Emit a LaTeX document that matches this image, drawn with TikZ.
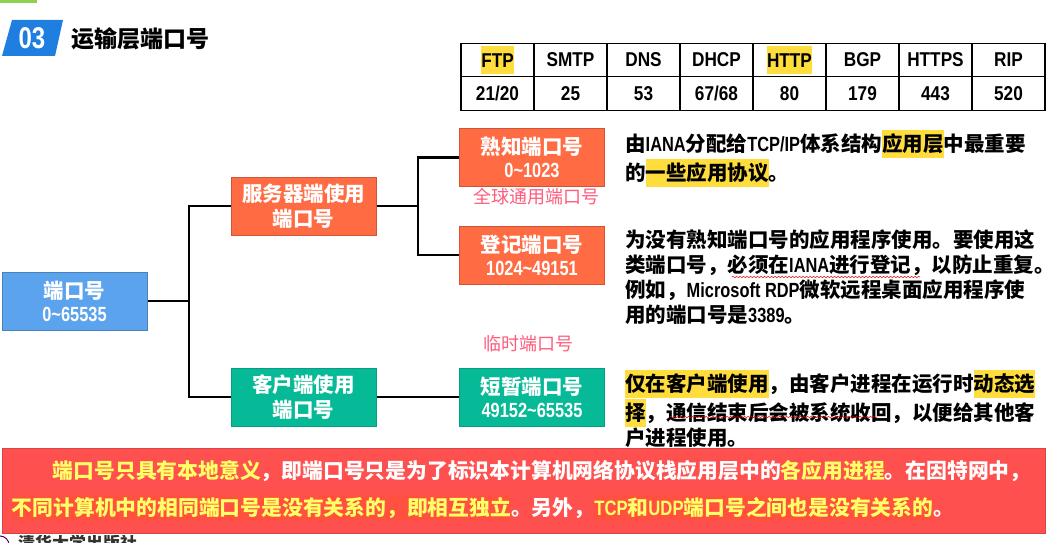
\documentclass[tikz,border=0pt]{standalone}
\usepackage{fontspec}
\setmainfont{Noto Sans CJK SC}
\newfontfamily\latn[FakeStretch=0.86]{Liberation Sans}
\newfontfamily\latnslim[FakeStretch=0.8]{Liberation Sans}
\usetikzlibrary{positioning,calc,decorations.pathmorphing}
\definecolor{portblue}{HTML}{5BA3EC}
\definecolor{portorange}{HTML}{FF6B42}
\definecolor{portgreen}{HTML}{07BA97}
\definecolor{notered}{HTML}{FF5050}
\definecolor{noteorange}{HTML}{FF5040}
\definecolor{notegold}{HTML}{FFFF66}
\definecolor{markyellow}{HTML}{FFDD3C}
\definecolor{sidepink}{HTML}{FF5A7A}
\definecolor{titleblue}{HTML}{1E7FE0}
\definecolor{topgreen}{HTML}{92D050}
\newcommand{\la}[1]{{\latnslim #1}}
\newcommand{\hl}[1]{{\setlength\fboxsep{0pt}\colorbox{markyellow}{\rule[-6pt]{0pt}{28pt}#1}}}
\newcommand{\hr}[1]{{\setlength\fboxsep{0pt}\colorbox{noteorange}{\rule[-5pt]{0pt}{26pt}\textcolor{notegold}{#1}}}}
\newcommand{\boxnum}[1]{\fontsize{20.5}{20}\selectfont\la{#1}}
\tikzset{
  portbox/.style={draw=portblue!80!black, fill=portblue, line width=1pt, minimum width=145pt,
                  minimum height=58pt, inner sep=0pt, align=center, text=white,
                  font=\fontsize{20.5}{25}\selectfont\bfseries},
  serverbox/.style={portbox, draw=portorange!80!black, fill=portorange},
  clientbox/.style={portbox, draw=portgreen!85!black, fill=portgreen},
  cell/.style={draw=black, line width=1.1pt, minimum width=73pt, minimum height=33.5pt,
               inner sep=0pt, font=\fontsize{20}{22}\selectfont\latn\bfseries},
  bodytext/.style={anchor=west, inner sep=0pt, align=left, text=black,
                   font=\fontsize{20.5}{25}\selectfont\bfseries},
  sidelabel/.style={inner sep=0pt, text=sidepink, font=\fontsize{18}{20}\selectfont},
  link/.style={draw=black, line width=2.4pt},
  squiggle/.style={draw=red!85!black, line width=.5pt, decorate,
                   decoration={snake, amplitude=.7pt, segment length=3.5pt}}}
\begin{document}
\begin{tikzpicture}[x=1pt, y=-1pt]
  \useasboundingbox (0,0) rectangle (1055,543);
  \fill[topgreen] (0,0) rectangle (37,3);
  % heading
  \fill[titleblue] (12,20) -- (63,20) -- (55,56) -- (2,56) -- cycle;
  \node[inner sep=0pt, text=white, font=\fontsize{30}{30}\selectfont\latnslim\bfseries] (num) at (32,38) {03};
  \node[anchor=west, inner sep=0pt, font=\fontsize{23}{25}\selectfont\bfseries] (title) at (71,39) {运输层端口号};
  % protocol table
  \foreach \proto/\pnum [count=\i] in {\hl{FTP}/21\slash 20, SMTP/25, DNS/53, DHCP/67\slash 68,
      \hl{HTTP}/80, BGP/179, HTTPS/443, RIP/520} {
    \node[cell] (p\i) at (461+73*\i-36.5,60) {\proto};
    \node[cell] (n\i) at (461+73*\i-36.5,93.5) {\pnum};
  }
  % tree
  \node[portbox] (port) at (74.5,301) {端口号\\[-2pt]\boxnum{0\textasciitilde 65535}};
  \node[serverbox] (server) at (303.5,206) {服务器端使用\\端口号};
  \node[clientbox] (client) at (303.5,397) {客户端使用\\端口号};
  \node[serverbox] (known) at (532,157.5) {熟知端口号\\[-2pt]\boxnum{0\textasciitilde 1023}};
  \node[serverbox] (reg) at (532,255) {登记端口号\\[-2pt]\boxnum{1024\textasciitilde 49151}};
  \node[clientbox] (temp) at (532,397) {短暂端口号\\[-2pt]\boxnum{49152\textasciitilde 65535}};
  \coordinate (fork1) at (189,301);
  \coordinate (fork2) at (418,206);
  \draw[link] (port) -- (fork1);
  \draw[link] (server.west) -| (fork1) |- (client.west);
  \draw[link] (server) -- (fork2);
  \draw[link] (known.west) -| (fork2) |- (reg.west);
  \draw[link] (client) -- (temp);
  \node[sidelabel] (global) at (536,197) {全球通用端口号};
  \node[sidelabel] (short) at (528,344) {临时端口号};
  % explanations
  \node[bodytext] (t1) at (625,158) {由\la{IANA}分配给\la{TCP/IP}体系结构\hl{应用层}中最重要\\的\hl{一些应用协议}。};
  \node[bodytext] (t2) at (625,277) {为没有熟知端口号的应用程序使用。要使用这\\类端口号，必须在\la{IANA}进行登记，以防止重复。\\例如，\la{Microsoft RDP}微软远程桌面应用程序使\\用的端口号是\la{3389}。};
  \node[bodytext] (t3) at (625,409) {\hl{仅在客户端使用}，由客户进程在运行时\hl{动态选}\\\hl{择}，通信结束后会被系统收回，以便给其他客\\户进程使用。};
  \draw[squiggle] (732,277) -- (920,277);
  \draw[squiggle] (670,417) -- (877,417);
  % note
  \node[draw=notered!85!black, fill=notered, line width=.6pt, minimum width=1043pt, minimum height=85pt,
        inner xsep=10pt, inner ysep=0pt, text width=1023pt, align=left, text=white,
        font=\fontsize{20.8}{37}\selectfont\bfseries] (note) at (523.5,490.5)
    {\hspace{41pt}\textcolor{notegold}{端口号只具有本地意义}，即端口号只是为了标识本计算机网络协议栈应用层中的\textcolor{notegold}{各应用进程}。在因特网中，\\\hr{不同计算机中的相同端口号是没有关系的，即相互独立}。另外，\hr{\la{TCP}和\la{UDP}端口号之间也是没有关系的}。};
  % logo cut off by the page edge
  \begin{scope}
    \clip (0,535) rectangle (140,543);
    \draw[violet!70!black, line width=1pt] (0,545) circle (9);
    \node[anchor=north west, inner sep=0pt, text=black!80, font=\fontsize{17}{18}\selectfont\bfseries] (logo) at (18,535) {清华大学出版社};
  \end{scope}
\end{tikzpicture}
\end{document}
